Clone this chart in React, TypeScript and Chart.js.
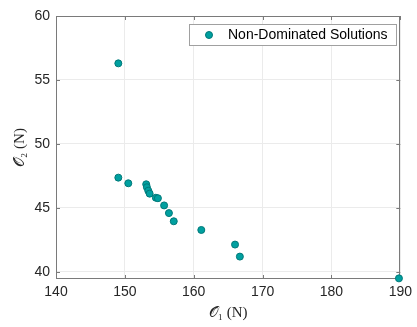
import React, { useEffect, useRef } from "react";
import { Chart, registerables } from "chart.js";

Chart.register(...registerables);

const o1Values = [149.05, 149.05, 150.5, 153.1, 153.2, 153.4, 153.6, 154.5, 154.8, 155.7, 156.4, 157.1, 161.1, 166.0, 166.7, 189.8];
const o2Values = [56.3, 47.37, 46.93, 46.85, 46.62, 46.35, 46.12, 45.8, 45.76, 45.2, 44.6, 43.96, 43.28, 42.14, 41.2, 39.5];
const xTicks = [140, 150, 160, 170, 180, 190];
const yTicks = [40, 45, 50, 55, 60];
const seriesLabel = "Non-Dominated Solutions";

const FILL = "#00a0a0";
const EDGE = "#007878";
const AXIS = "#7a7a7a";

const boxPlugin = {
  id: "boxAndTicks",
  beforeDatasetsDraw(chart: any) {
    const { ctx, chartArea: a, scales } = chart;
    ctx.save();
    ctx.strokeStyle = AXIS;
    ctx.lineWidth = 1;
    ctx.beginPath();
    ctx.rect(Math.round(a.left) + 0.5, Math.round(a.top) + 0.5, Math.round(a.right - a.left) - 1, Math.round(a.bottom - a.top) - 1);
    ctx.stroke();
    const t = 4;
    ctx.beginPath();
    for (const v of xTicks) {
      const x = Math.round(scales.x.getPixelForValue(v)) + 0.5;
      ctx.moveTo(x, a.bottom);
      ctx.lineTo(x, a.bottom - t);
      ctx.moveTo(x, a.top);
      ctx.lineTo(x, a.top + t);
    }
    for (const v of yTicks) {
      const y = Math.round(scales.y.getPixelForValue(v)) + 0.5;
      ctx.moveTo(a.left, y);
      ctx.lineTo(a.left + t, y);
      ctx.moveTo(a.right, y);
      ctx.lineTo(a.right - t, y);
    }
    ctx.stroke();
    ctx.restore();
  },
  afterDraw(chart: any) {
    const { ctx } = chart;
    ctx.save();
    ctx.fillStyle = "#ffffff";
    ctx.strokeStyle = "#a0a0a0";
    ctx.lineWidth = 1;
    ctx.fillRect(189.5, 24.5, 207, 21);
    ctx.strokeRect(189.5, 24.5, 207, 21);
    ctx.beginPath();
    ctx.arc(209, 35, 3.5, 0, Math.PI * 2);
    ctx.fillStyle = FILL;
    ctx.fill();
    ctx.strokeStyle = EDGE;
    ctx.stroke();
    ctx.fillStyle = "#000000";
    ctx.font = "14px 'Liberation Sans', Arial, sans-serif";
    ctx.textBaseline = "middle";
    ctx.textAlign = "left";
    ctx.fillText(seriesLabel, 228, 35.5);
    ctx.restore();
  },
};

export default function App() {
  const ref = useRef<HTMLCanvasElement>(null);
  useEffect(() => {
    if (!ref.current) return;
    const chart = new Chart(ref.current, {
      type: "scatter",
      data: {
        datasets: [
          {
            label: seriesLabel,
            data: o1Values.map((x, i) => ({ x, y: o2Values[i] })),
            backgroundColor: FILL,
            borderColor: EDGE,
            borderWidth: 1,
            pointRadius: 3.5,
            clip: false as any,
          },
        ],
      },
      options: {
        animation: false,
        responsive: false,
        layout: { padding: { top: 16, right: 13, left: 0, bottom: 0 } },
        plugins: { legend: { display: false }, tooltip: { enabled: false } },
        scales: {
          x: {
            type: "linear",
            min: 140,
            max: 190,
            afterBuildTicks: (s: any) => {
              s.ticks = xTicks.map((v) => ({ value: v }));
            },
            afterFit: (s: any) => {
              s.height = 48;
            },
            grid: { color: "#ebebeb", drawTicks: false },
            border: { display: false },
            ticks: {
              padding: 5,
              color: "#262626",
              font: { family: "'Liberation Sans', Arial, sans-serif", size: 14 },
            },
            title: {
              display: true,
              text: "𝒪₁ (N)",
              color: "#262626",
              font: { family: "'Liberation Serif', 'DejaVu Serif', serif", size: 15 },
              padding: { top: 0, bottom: 5 },
            },
          },
          y: {
            type: "linear",
            min: 39.45,
            max: 60,
            afterBuildTicks: (s: any) => {
              s.ticks = yTicks.map((v) => ({ value: v }));
            },
            afterFit: (s: any) => {
              s.width = 56;
            },
            grid: { color: "#ebebeb", drawTicks: false },
            border: { display: false },
            ticks: {
              padding: 6,
              color: "#262626",
              font: { family: "'Liberation Sans', Arial, sans-serif", size: 14 },
            },
            title: {
              display: true,
              text: "𝒪₂ (N)",
              color: "#262626",
              font: { family: "'Liberation Serif', 'DejaVu Serif', serif", size: 15 },
              padding: { top: 11, bottom: 0 },
            },
          },
        },
      },
      plugins: [boxPlugin],
    });
    return () => chart.destroy();
  }, []);
  return (
    <div style={{ position: "absolute", left: 0, top: 0, width: 417, height: 327, background: "#fff" }}>
      <canvas ref={ref} width={417} height={327} />
    </div>
  );
}
